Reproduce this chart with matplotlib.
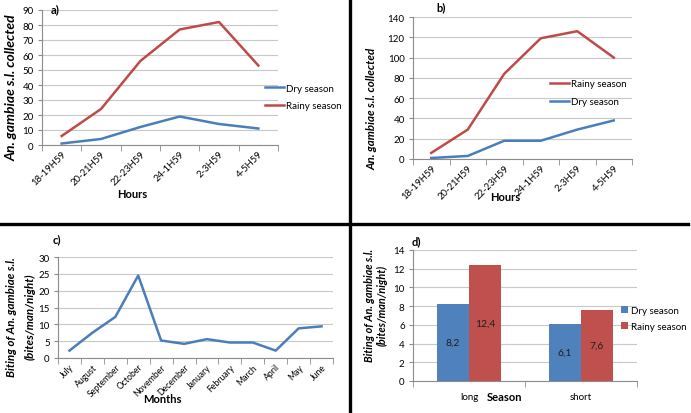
import numpy as np
import matplotlib.pyplot as plt
from matplotlib.lines import Line2D

plt.rcParams['font.family'] = ['Lato', 'DejaVu Sans']

W, H = 691, 414

# data
hours = ['18-19H59', '20-21H59', '22-23H59', '24-1H59', '2-3H59', '4-5H59']
a_dry = [1, 4, 12, 19, 14, 11]
a_rainy = [6, 24, 56, 77, 82, 53]
b_rainy = [6, 29, 84, 119, 126, 100]
b_dry = [1, 3, 18, 18, 29, 38]
months = ['July', 'August', 'September', 'October', 'November', 'December',
          'January', 'February', 'March', 'April', 'May', 'June']
c_biting = [2.2, 7.5, 12.2, 24.5, 5.2, 4.2, 5.6, 4.6, 4.6, 2.2, 8.8, 9.4]
seasons = ['long', 'short']
d_dry = [8.2, 6.1]
d_rainy = [12.4, 7.6]

BLUE = '#4A7EBB'
RED = '#BE4B48'
BAR_BLUE = '#4F81BD'
BAR_RED = '#C0504D'
GRID = '#C8C8C8'
AXIS = '#8C8C8C'


def px_axes(fig, x0, y0, x1, y1):
    # pixel box (top-left origin) -> figure axes
    return fig.add_axes([x0 / W, 1 - y1 / H, (x1 - x0) / W, (y1 - y0) / H])


def excel_style(ax, n, ymax, ystep):
    ax.set_xlim(-0.5, n - 0.5)
    ax.set_ylim(0, ymax)
    ax.set_yticks(np.arange(0, ymax + 0.01, ystep))
    ax.yaxis.grid(True, color=GRID, lw=0.8)
    ax.set_axisbelow(True)
    for s in ['top', 'right']:
        ax.spines[s].set_visible(False)
    for s in ['left', 'bottom']:
        ax.spines[s].set_color(AXIS)
        ax.spines[s].set_linewidth(0.8)
    ax.set_xticks(np.arange(n))
    ax.set_xticks(np.arange(-0.5, n, 1.0), minor=True)
    ax.tick_params(axis='x', which='major', length=0, labelsize=6.8, pad=3)
    ax.tick_params(axis='x', which='minor', length=4, color=AXIS)
    ax.tick_params(axis='y', length=3, color=AXIS, labelsize=7, pad=3)


def ylab(x, y, text, size, spacing=1.3):
    fig.text(x / W, 1 - y / H, text, rotation=90, ha='center', va='center',
             fontsize=size, fontweight='bold', style='italic', linespacing=spacing)


def lbl(x, y, text):
    fig.text(x / W, 1 - y / H, text, fontsize=8, fontweight='bold', ha='center', va='center')


leg_kw = dict(frameon=False, fontsize=7, borderpad=0, borderaxespad=0)

fig = plt.figure(figsize=(W / 100, H / 100), dpi=100)

# panel a
ax = px_axes(fig, 42, 11, 278, 146)
x = np.arange(len(hours))
ax.plot(x, a_dry, color=BLUE, lw=1.8, label='Dry season')
ax.plot(x, a_rainy, color=RED, lw=1.8, label='Rainy season')
excel_style(ax, len(hours), 90, 10)
ax.set_xticklabels(hours, rotation=45, ha='right', rotation_mode='anchor')
ax.legend(loc='center left', bbox_to_anchor=(0.945, 0.356), handlelength=2.0,
          handletextpad=0.15, labelspacing=0.85, **leg_kw)
ylab(12, 88, 'An. gambiae s.l. collected', 10)
lbl(55, 10, 'a)')
lbl(132, 195, 'Hours')

# panel b
ax = px_axes(fig, 413, 18, 632, 160)
ax.plot(x, b_rainy, color=RED, lw=1.8, label='Rainy season')
ax.plot(x, b_dry, color=BLUE, lw=1.8, label='Dry season')
excel_style(ax, len(hours), 140, 20)
ax.set_xticklabels(hours, rotation=45, ha='right', rotation_mode='anchor')
ax.legend(loc='center left', bbox_to_anchor=(0.625, 0.468), handlelength=2.0,
          handletextpad=0.15, labelspacing=0.95, **leg_kw)
ylab(372, 109, 'An. gambiae s.l. collected', 8.3)
lbl(441, 8, 'b)')
lbl(505, 198, 'Hours')

# panel c
ax = px_axes(fig, 58, 258, 333, 359)
xm = np.arange(len(months))
ax.plot(xm, c_biting, color=BLUE, lw=1.8)
excel_style(ax, len(months), 30, 5)
ax.set_xticklabels(months, rotation=45, ha='right', rotation_mode='anchor', fontsize=6.2)
ylab(21, 317, 'Biting of An. gambiae s.l.\n(bites/man/night)', 8.3, spacing=1.8)
lbl(57, 240, 'c)')
lbl(162, 400, 'Months')

# panel d
ax = px_axes(fig, 413, 251, 637, 382)
xs = np.arange(len(seasons))
bw = 0.285
b1 = ax.bar(xs - bw / 2, d_dry, bw, color=BAR_BLUE, label='Dry season')
b2 = ax.bar(xs + bw / 2, d_rainy, bw, color=BAR_RED, label='Rainy season')
excel_style(ax, len(seasons), 14, 2)
ax.set_xticklabels(seasons, fontsize=7)
ax.tick_params(axis='x', which='major', pad=8)
for bars in (b1, b2):
    ax.bar_label(bars, labels=[f'{v:.1f}'.replace('.', ',') for v in bars.datavalues],
                 label_type='center', fontsize=7.5, color='#1F1F1F')
ax.legend(loc='center left', bbox_to_anchor=(0.93, 0.477), handlelength=0.7,
          handleheight=0.7, handletextpad=0.25, labelspacing=0.7, **leg_kw)
ylab(376, 305, 'Biting of An. gambiae s.l.\n(bites/man/night)', 7.8, spacing=1.15)
lbl(416, 242, 'd)')
lbl(505, 398, 'Season')

# panel borders
fig.add_artist(Line2D([350 / W, 350 / W], [0, 1], transform=fig.transFigure,
                      color='black', lw=2.4))
fig.add_artist(Line2D([0, 688 / W], [1 - 225 / H, 1 - 225 / H], transform=fig.transFigure,
                      color='black', lw=2.4))

fig.savefig('out.png', dpi=100)
